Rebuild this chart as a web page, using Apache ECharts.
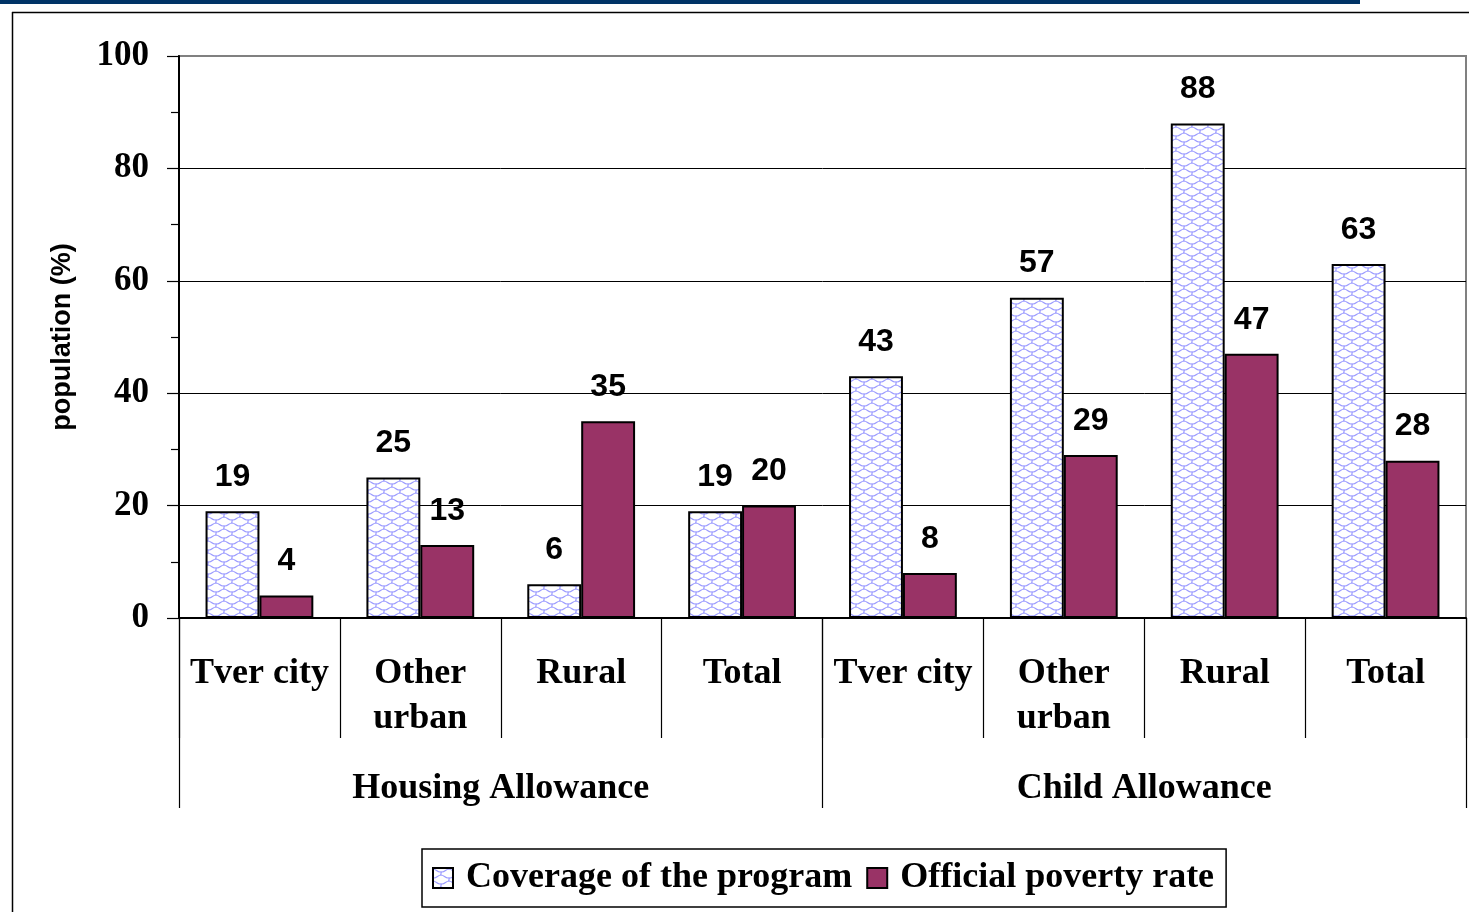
<!DOCTYPE html>
<html>
<head>
<meta charset="utf-8">
<script src="https://cdn.jsdelivr.net/npm/echarts@6/dist/echarts.min.js"></script>
<style>
html,body{margin:0;padding:0;background:#fff;}
#chart{width:1469px;height:912px;}
</style>
</head>
<body>
<div id="chart"></div>
<script>
const categories = ['Tver city', 'Other\nurban', 'Rural', 'Total', 'Tver city', 'Other\nurban', 'Rural', 'Total'];
const groups = ['Housing Allowance', 'Child Allowance'];
const coverage = [19, 25, 6, 19, 43, 57, 88, 63];
const poverty = [4, 13, 35, 20, 8, 29, 47, 28];
const seriesNames = ['Coverage of the program', 'Official poverty rate'];
const yTicks = [0, 20, 40, 60, 80, 100];

function makePattern() {
  const c = document.createElement('canvas');
  c.width = 16; c.height = 12;
  const g = c.getContext('2d');
  g.fillStyle = '#ffffff';
  g.fillRect(0, 0, 16, 12);
  g.strokeStyle = '#9c9cff';
  g.lineWidth = 1.2;
  g.lineCap = 'round';
  // wavy horizontal lines (shingle-like)
  g.beginPath();
  g.moveTo(0, 1); g.bezierCurveTo(3, 1, 4, 4, 7, 4); g.lineTo(9, 4); g.bezierCurveTo(12, 4, 13, 1, 16, 1);
  g.stroke();
  g.beginPath();
  g.moveTo(-8, 7); g.bezierCurveTo(-5, 7, -4, 10, -1, 10); g.lineTo(1, 10); g.bezierCurveTo(4, 10, 5, 7, 8, 7);
  g.bezierCurveTo(11, 7, 12, 10, 15, 10); g.lineTo(17, 10);
  g.stroke();
  // curved connectors
  g.beginPath(); g.moveTo(8, 4); g.bezierCurveTo(9, 5, 7, 6, 8, 7); g.stroke();
  g.beginPath(); g.moveTo(0, 10); g.bezierCurveTo(1, 11, -1, 12, 0, 13); g.stroke();
  g.beginPath(); g.moveTo(16, 10); g.bezierCurveTo(17, 11, 15, 12, 16, 13); g.stroke();
  g.beginPath(); g.moveTo(0, -2); g.bezierCurveTo(1, -1, -1, 0, 0, 1); g.stroke();
  g.beginPath(); g.moveTo(16, -2); g.bezierCurveTo(17, -1, 15, 0, 16, 1); g.stroke();
  return c;
}
const pattern = makePattern();

const serif = '"Liberation Serif", "Times New Roman", serif';
const sans = '"Liberation Sans", Arial, sans-serif';

const chart = echarts.init(document.getElementById('chart'), null, {renderer: 'canvas'});
chart.setOption({
  animation: false,
  backgroundColor: '#ffffff',
  grid: {
    left: 179, right: 3, top: 56, bottom: 294,
    show: true, borderColor: '#808080', borderWidth: 2, backgroundColor: 'transparent'
  },
  legend: {
    left: 422, top: 849,
    orient: 'horizontal',
    padding: [11, 12, 11, 10],
    borderColor: '#000', borderWidth: 1.5,
    itemWidth: 20, itemHeight: 20, itemGap: 14,
    icon: 'rect',
    textStyle: {fontFamily: serif, fontWeight: 'bold', fontSize: 36, color: '#000', padding: [0, 0, 0, 8]},
    data: seriesNames
  },
  xAxis: [{
    type: 'category',
    data: categories,
    position: 'bottom',
    axisLine: {show: true, lineStyle: {color: '#000', width: 2}},
    axisTick: {show: true, interval: 0, length: 120, lineStyle: {color: '#000', width: 1.2}},
    axisLabel: {interval: 0, margin: 33, fontFamily: serif, fontWeight: 'bold', fontSize: 36, lineHeight: 45, color: '#000'},
    splitLine: {show: false}
  }, {
    type: 'category',
    data: groups,
    position: 'bottom',
    axisLine: {show: false},
    axisTick: {show: true, interval: 0, length: 190, lineStyle: {color: '#000', width: 1.2}},
    axisLabel: {interval: 0, margin: 148, fontFamily: serif, fontWeight: 'bold', fontSize: 36, lineHeight: 45, color: '#000'},
    splitLine: {show: false}
  }],
  yAxis: {
    type: 'value',
    min: yTicks[0], max: yTicks[yTicks.length - 1], interval: 20,
    name: 'population (%)',
    nameLocation: 'middle',
    nameGap: 103,
    nameRotate: 90,
    nameTextStyle: {fontFamily: sans, fontWeight: 'bold', fontSize: 27, color: '#000'},
    axisLine: {show: true, lineStyle: {color: '#000', width: 2}},
    axisTick: {show: true, inside: false, length: 12, lineStyle: {color: '#000', width: 1.2}},
    minorTick: {show: true, splitNumber: 2, length: 8, lineStyle: {color: '#000', width: 1.2}},
    axisLabel: {margin: 30, fontFamily: serif, fontWeight: 'bold', fontSize: 35, color: '#000'},
    splitLine: {show: true, showMaxLine: false, lineStyle: {color: '#000', width: 1}}
  },
  series: [{
    name: seriesNames[0],
    type: 'bar',
    data: coverage,
    barGap: '0%',
    barCategoryGap: '33%',
    itemStyle: {color: {image: pattern, repeat: 'repeat'}, borderColor: '#000', borderWidth: 2},
    label: {show: true, position: 'top', distance: 18, fontFamily: sans, fontWeight: 'bold', fontSize: 32, color: '#000'}
  }, {
    name: seriesNames[1],
    type: 'bar',
    data: poverty,
    itemStyle: {color: '#993366', borderColor: '#000', borderWidth: 2},
    label: {show: true, position: 'top', distance: 18, fontFamily: sans, fontWeight: 'bold', fontSize: 32, color: '#000'}
  }],
  graphic: [
    {type: 'rect', left: 0, top: 0, shape: {width: 1360, height: 4}, style: {fill: '#003366'}, silent: true},
    {type: 'line', shape: {x1: 12, y1: 12.5, x2: 1469, y2: 12.5}, style: {stroke: '#000', lineWidth: 1.5}, silent: true},
    {type: 'line', shape: {x1: 12.5, y1: 12, x2: 12.5, y2: 912}, style: {stroke: '#000', lineWidth: 1.5}, silent: true}
  ]
});
</script>
</body>
</html>
